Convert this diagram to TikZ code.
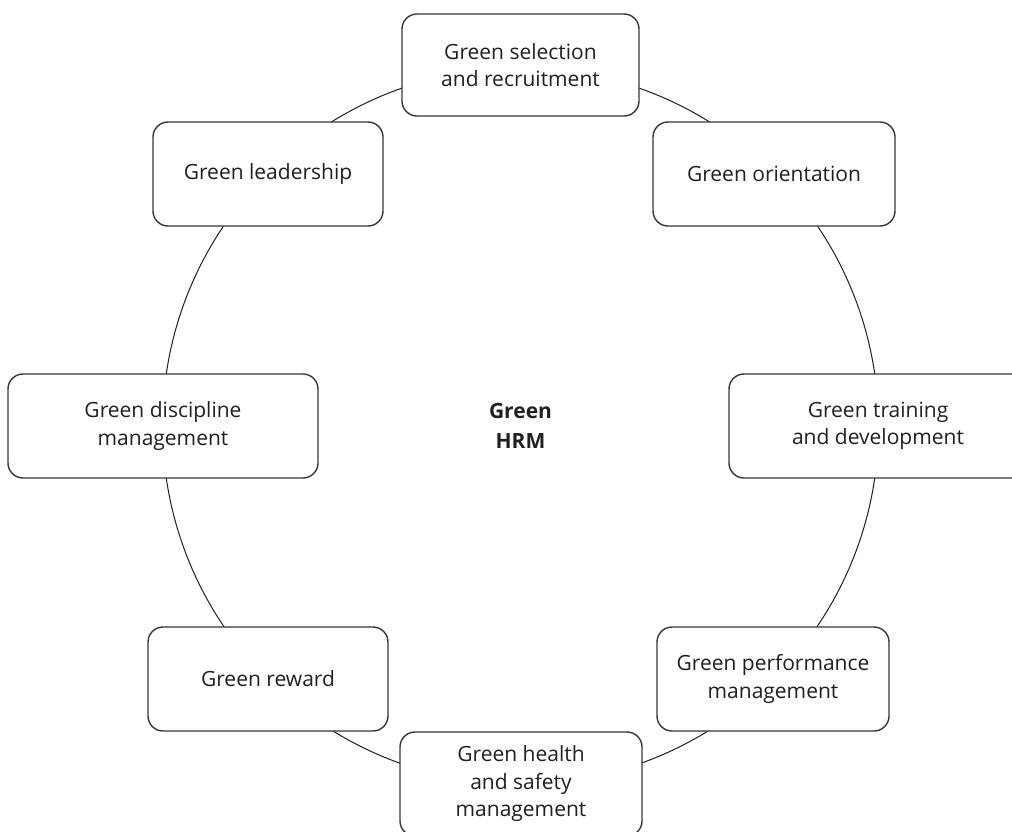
\documentclass[tikz,border=0pt]{standalone}
\usepackage{fontspec}
\setmainfont{Open Sans}
\usepackage{tikz}
\definecolor{ink}{RGB}{35, 31, 32}
\definecolor{rim}{RGB}{55, 55, 55}
\usetikzlibrary{positioning}

\begin{document}
\begin{tikzpicture}[hrmbox/.style={rectangle, rounded corners=15pt, draw=rim, line width=1.4pt, fill=white, text=ink, align=center, minimum height=104pt, font=\fontsize{21}{27.5}\selectfont}]
\useasboundingbox (0pt, 0pt) rectangle (1012pt, -831pt);
\node (0) [circle, minimum size=716pt, inner sep=0pt, draw=ink, line width=1pt, text=ink, align=center, font=\fontsize{21}{30}\selectfont\bfseries] at (520.5pt, -426pt) {Green\\HRM};
\node (1) [hrmbox, minimum width=237pt, minimum height=102pt] at (520.5pt, -65pt) {Green selection\\and recruitment};
\node (2) [hrmbox, minimum width=242pt] at (774pt, -174pt) {Green orientation};
\node (3) [hrmbox, minimum width=298pt] at (878pt, -426pt) {Green training\\and development};
\node (4) [hrmbox, minimum width=232pt] at (773pt, -679pt) {Green performance\\management};
\node (5) [hrmbox, minimum width=242pt] at (521pt, -784pt) {Green health\\and safety\\management};
\node (6) [hrmbox, minimum width=240pt] at (268pt, -679pt) {Green reward};
\node (7) [hrmbox, minimum width=310pt] at (163pt, -426pt) {Green discipline\\management};
\node (8) [hrmbox, minimum width=230pt] at (268pt, -174pt) {Green leadership};
\end{tikzpicture}
\end{document}
